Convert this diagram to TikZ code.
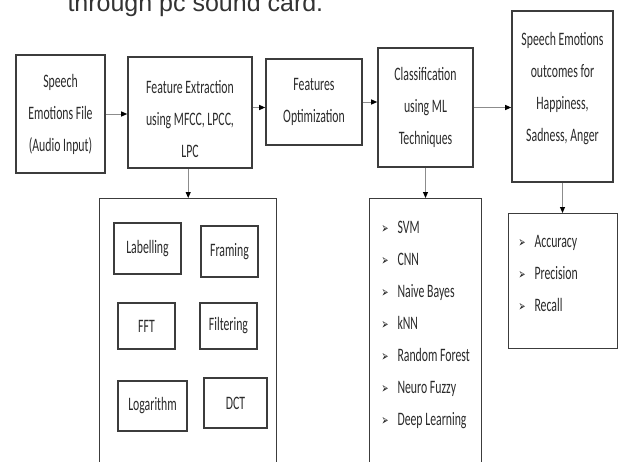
\documentclass[tikz,border=0pt]{standalone}
\usepackage{fontspec}
\usepackage{graphicx}
\setmainfont[FakeStretch=0.62]{Carlito}
\newfontfamily\capfont{Liberation Sans}
\newfontfamily\symfont{DejaVu Sans}
\usetikzlibrary{arrows.meta}
\definecolor{boxline}{HTML}{3C3C3C}
\definecolor{boxtext}{HTML}{2A2A2A}
\definecolor{linkline}{HTML}{8C8C8C}
\tikzstyle{bt} = [rectangle, draw=boxline, line width=1.6pt, text=boxtext,
    align=center, inner sep=0pt, font=\fontsize{19}{32}\selectfont]
\tikzstyle{sub} = [bt, line width=1.4pt, font=\fontsize{19}{22}\selectfont]
\tikzstyle{grp} = [rectangle, draw=boxline, line width=1.4pt, anchor=north west]
\tikzstyle{item} = [anchor=base west, inner sep=0pt, text=boxtext,
    font=\fontsize{19}{22}\selectfont]
\newcommand{\arrowbullet}{\makebox[16pt][l]{\symfont\fontsize{15}{15}\selectfont\color{black!85}\scalebox{0.55}[1]{➢}}}

\begin{document}
\begin{tikzpicture}[x=1pt,y=-1pt,->,>={Triangle[length=6pt,width=5pt,black]},
                    linkline,line width=1pt]
  \useasboundingbox (0,0) rectangle (618,461);
  \clip (0,0) rectangle (618,461);

  \node[anchor=base west, inner sep=0pt, text=black!80,
        font=\capfont\fontsize{25}{25}\selectfont] (cap) at (67,11) {through pc sound card.};

  % top row
  \node[bt, minimum width=89pt, minimum height=118pt]  (file)     at (60.5,114)  {Speech\\Emotions File\\(Audio Input)};
  \node[bt, minimum width=124pt, minimum height=111pt] (extract)  at (190,112.5) {\rule{0pt}{27pt}Feature Extraction\\using MFCC, LPCC,\\LPC};
  \node[bt, minimum width=96pt, minimum height=86pt]   (optimize) at (314,102)   {Features\\Optimization};
  \node[bt, minimum width=95pt, minimum height=119pt]  (classify) at (425.5,107.5) {Classification\\using ML\\Techniques};
  \node[bt, minimum width=101pt, minimum height=171pt] (outcome)  at (562.5,96.5)  {Speech Emotions\\outcomes for\\Happiness,\\Sadness, Anger\rule[-20pt]{0pt}{1pt}};

  % lower boxes
  \node[grp, minimum width=177pt, minimum height=290pt] (steps)   at (99,198)  {};
  \node[grp, minimum width=112pt, minimum height=290pt] (models)  at (369,198) {};
  \node[grp, minimum width=109pt, minimum height=135pt] (metrics) at (508,213) {};

  \node[sub, minimum width=67pt, minimum height=51pt] (label)  at (147.5,248.5) {Labelling};
  \node[sub, minimum width=57pt, minimum height=51pt] (frame)  at (229.5,251.5) {Framing};
  \node[sub, minimum width=57pt, minimum height=46pt] (fft)    at (146.5,326)   {FFT};
  \node[sub, minimum width=57pt, minimum height=46pt] (filter) at (228.5,326)   {Filtering};
  \node[sub, minimum width=69pt, minimum height=50pt] (loga)   at (152.5,406)   {Logarithm};
  \node[sub, minimum width=63pt, minimum height=50pt] (dct)    at (235.5,403)   {DCT};

  \foreach \name/\txt [count=\k from 0] in {svm/SVM, cnn/CNN, nb/Naive Bayes, knn/kNN,
      rf/Random Forest, nf/Neuro Fuzzy, dl/Deep Learning}
    \node[item] (\name) at (381,233+32*\k) {\arrowbullet\txt};

  \foreach \name/\txt [count=\k from 0] in {acc/Accuracy, prec/Precision, rec/Recall}
    \node[item] (\name) at (518,247+32*\k) {\arrowbullet\txt};

  \path (file) edge (file -| extract.west)
        (extract.east |- classify) edge (optimize.west |- classify)
        (optimize) edge (optimize -| classify.west)
        (classify) edge (classify -| outcome.west)
        (steps.north |- extract.south) edge (steps.north)
        (classify.south) edge (classify.south |- models.north)
        (outcome.south) edge (outcome.south |- metrics.north);
\end{tikzpicture}
\end{document}
